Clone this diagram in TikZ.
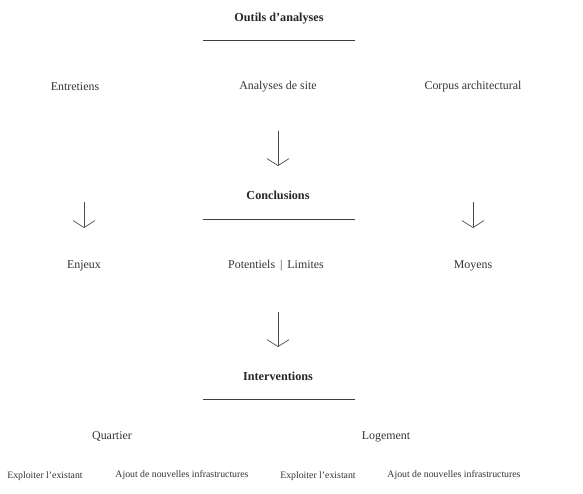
\documentclass[tikz,border=0pt]{standalone}
\usepackage{fontspec}
\setmainfont{Liberation Serif}
\usetikzlibrary{arrows.meta}
\tikzset{
  titre/.style={font=\fontsize{12.2}{14}\selectfont\bfseries, text=black!85, yshift=-1.5pt},
  item/.style={font=\fontsize{11.9}{14}\selectfont, text=black!80, yshift=-1.5pt},
  petit/.style={font=\fontsize{9.8}{11}\selectfont, text=black!80, yshift=-1pt},
  trait/.style={draw=black!75, line width=0.9pt},
  fleche/.style={draw=black!70, line width=0.7pt, -{Straight Barb[length=7pt,width=22pt]}}
}
\begin{document}
\begin{tikzpicture}[x=1pt,y=-1pt]
\useasboundingbox (0,0) rectangle (583,494);
% Outils d'analyses
\node[titre] (outils) at (279,17) {Outils d’analyses};
\draw[trait] (203,40) -- (355,40);
\node[item] (entretiens) at (75,85) {Entretiens};
\node[item] (site) at (278,85) {Analyses de site};
\node[item] (corpus) at (473,85) {Corpus architectural};
\coordinate (h1) at (278,131);
\coordinate (b1) at (278,166);
\draw[fleche] (h1) -- (b1);
% Conclusions
\node[titre] (concl) at (278,194) {Conclusions};
\draw[trait] (203,219) -- (355,219);
\coordinate (hg) at (84,202);
\coordinate (bg) at (84,228);
\coordinate (hd) at (473,202);
\coordinate (bd) at (473,228);
\draw[fleche] (hg) -- (bg);
\draw[fleche] (hd) -- (bd);
\node[item] (enjeux) at (84,264) {Enjeux};
\node[item] (potentiels) at (276,264) {Potentiels \,|\, Limites};
\node[item] (moyens) at (473,264) {Moyens};
\coordinate (h2) at (278,312);
\coordinate (b2) at (278,347);
\draw[fleche] (h2) -- (b2);
% Interventions
\node[titre] (interv) at (278,375) {Interventions};
\draw[trait] (203,399) -- (355,399);
\node[item] (quartier) at (112,435) {Quartier};
\node[item] (logement) at (386,435) {Logement};
\node[petit] (exq) at (45,475) {Exploiter l’existant};
\node[petit] (ajq) at (182,474) {Ajout de nouvelles infrastructures};
\node[petit] (exl) at (318,475) {Exploiter l’existant};
\node[petit] (ajl) at (454,474) {Ajout de nouvelles infrastructures};
\end{tikzpicture}
\end{document}
